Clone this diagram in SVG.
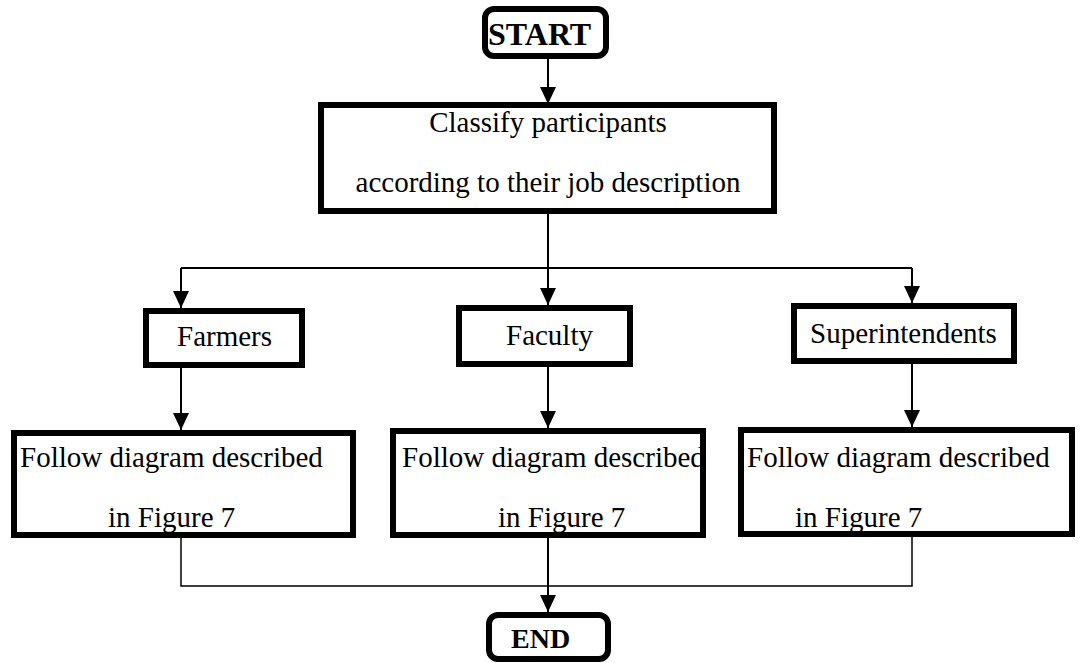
<svg xmlns="http://www.w3.org/2000/svg" width="1089" height="663" viewBox="0 0 1089 663">
<style>
.box{fill:#fff;stroke:#000;stroke-width:6}
.t{font-family:"Liberation Serif","Times New Roman",serif;font-size:29px;fill:#000}
.b{font-weight:bold}
.c{fill:none;stroke:#000;stroke-width:2}
.thin{stroke-width:1.5}
</style>
<defs>
<marker id="down" markerUnits="userSpaceOnUse" markerWidth="16" markerHeight="17" viewBox="0 0 16 17" refX="8" refY="17" orient="0">
<path d="M0,0 L16,0 L8,17 Z" fill="#000"/>
</marker>
</defs>
<g id="connectors">
<path class="c" d="M548,57 V104" marker-end="url(#down)"/>
<path class="c" d="M548,212 V305" marker-end="url(#down)"/>
<path class="c" d="M181,268 H912"/>
<path class="c" d="M181,268 V308" marker-end="url(#down)"/>
<path class="c" d="M912,268 V303" marker-end="url(#down)"/>
<path class="c" d="M181,367 V430" marker-end="url(#down)"/>
<path class="c" d="M548,366 V428" marker-end="url(#down)"/>
<path class="c" d="M912,364 V427" marker-end="url(#down)"/>
<path class="c thin" d="M181,538 V586 H912 V537"/>
<path class="c" d="M548,538 V612" marker-end="url(#down)"/>
</g>
<g id="start">
<rect class="box" x="485" y="9" width="121" height="47" rx="9"/>
<text class="t b" x="488" y="45" style="font-size:32px">START</text>
</g>
<g id="classify">
<rect class="box" x="321" y="105" width="453" height="106"/>
<text class="t" x="548" y="132" text-anchor="middle">Classify participants</text>
<text class="t" x="548" y="192" text-anchor="middle">according to their job description</text>
</g>
<g id="farmers">
<rect class="box" x="146" y="311" width="156" height="54"/>
<text class="t" x="177" y="346">Farmers</text>
</g>
<g id="faculty">
<rect class="box" x="459" y="308" width="171" height="56"/>
<text class="t" x="506" y="345">Faculty</text>
</g>
<g id="superintendents">
<rect class="box" x="794" y="306" width="220" height="55"/>
<text class="t" x="810" y="343">Superintendents</text>
</g>
<g id="follow1">
<rect class="box" x="14" y="433" width="339" height="102"/>
<text class="t" x="20" y="467">Follow diagram described</text>
<text class="t" x="108" y="527">in Figure 7</text>
</g>
<g id="follow2">
<rect class="box" x="393" y="431" width="310" height="104"/>
<text class="t" x="402" y="467">Follow diagram described</text>
<text class="t" x="498" y="527">in Figure 7</text>
</g>
<g id="follow3">
<rect class="box" x="741" y="430" width="331" height="104"/>
<text class="t" x="747" y="467">Follow diagram described</text>
<text class="t" x="795" y="527">in Figure 7</text>
</g>
<g id="end">
<rect class="box" x="489" y="615" width="119" height="44" rx="9"/>
<text class="t b" x="511" y="648" style="font-size:28px">END</text>
</g>
</svg>
